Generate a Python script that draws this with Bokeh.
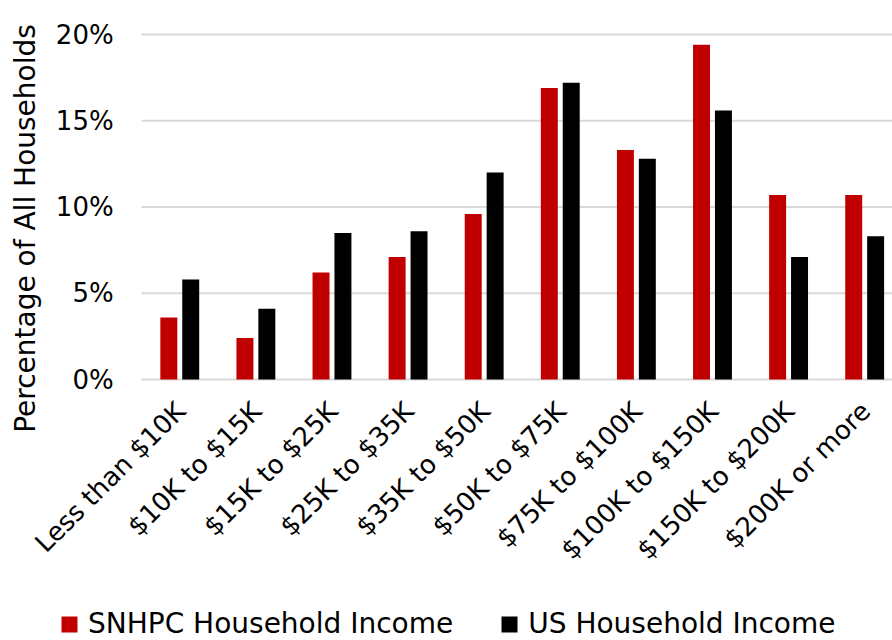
import math
from bokeh.plotting import figure
from bokeh.models import ColumnDataSource, Range1d, Legend, LegendItem, Label
from bokeh.core.properties import value
from bokeh.transform import dodge
from bokeh.embed import file_html
from bokeh.resources import INLINE

categories = ["Less than $10K", "$10K to $15K", "$15K to $25K", "$25K to $35K", "$35K to $50K",
              "$50K to $75K", "$75K to $100K", "$100K to $150K", "$150K to $200K", "$200K or more"]
snhpc = [3.6, 2.4, 6.2, 7.1, 9.6, 16.9, 13.3, 19.4, 10.7, 10.7]
us = [5.8, 4.1, 8.5, 8.6, 12.0, 17.2, 12.8, 15.6, 7.1, 8.3]
y_ticks = [0, 5, 10, 15, 20]
y_tick_labels = ["0%", "5%", "10%", "15%", "20%"]
series_names = ["SNHPC Household Income", "US Household Income"]
y_title = "Percentage of All Households"

FONT = "DejaVu Sans"
W, H = 892, 640

# layout geometry (pixels): plot area starts at x=141, categories 76.1px apart; 0% at y=379
PX_PER_CAT = 76.1
PLOT_LEFT = 141.15
ZERO_Y = 379.0
PX_PER_PCT = 17.25


def x_of(px):
    return (px - PLOT_LEFT) / PX_PER_CAT


def y_of(py):
    return (ZERO_Y - py) / PX_PER_PCT


xpos = [i + 0.5 for i in range(len(categories))]
src = ColumnDataSource(dict(x=xpos, cat=categories, snhpc=snhpc, us=us))

p = figure(width=W, height=H, x_range=Range1d(x_of(0), x_of(W)), y_range=Range1d(y_of(H), y_of(0)),
           output_backend="svg", toolbar_location=None, x_axis_location=None, y_axis_location=None,
           min_border=0)
p.outline_line_color = None
p.xgrid.visible = False
p.ygrid.visible = False

# horizontal gridlines
grid_src = ColumnDataSource(dict(y=y_ticks, lab=y_tick_labels))
p.segment(x0=0, x1=x_of(W), y0="y", y1="y", source=grid_src, line_color="#D9D9D9", line_width=2)

r1 = p.vbar(x=dodge("x", -0.143, range=p.x_range), top="snhpc", width=0.223, source=src,
            fill_color="#C00000", line_color=None)
r2 = p.vbar(x=dodge("x", 0.145, range=p.x_range), top="us", width=0.223, source=src,
            fill_color="#000000", line_color=None)

# y tick labels
p.text(x=0, y="y", text="lab", source=grid_src, x_offset=-28, text_align="right",
       text_baseline="middle", text_font=value(FONT), text_font_size="26px", text_color="#000000")

# category labels, rotated 45 degrees
p.text(x="x", y=0, text="cat", source=src, x_offset=1, y_offset=27, angle=math.pi / 4,
       text_align="right", text_baseline="middle", text_font=value(FONT), text_font_size="26px",
       text_color="#000000")

# y-axis title
p.add_layout(Label(x=x_of(25), y=y_of(228), text=y_title, angle=math.pi / 2, text_align="center",
                   text_baseline="middle", text_font=FONT, text_font_size="28px", text_color="#000000"))

legend = Legend(items=[LegendItem(label=series_names[0], renderers=[r1]),
                       LegendItem(label=series_names[1], renderers=[r2])],
                orientation="horizontal", location=(59, 0))
legend.label_text_font = FONT
legend.label_text_font_size = "28px"
legend.label_text_color = "#000000"
legend.glyph_width = 20
legend.glyph_height = 20
legend.spacing = 46
legend.label_standoff = 9
legend.border_line_color = None
legend.background_fill_alpha = 0
legend.margin = 0
legend.padding = 2
p.add_layout(legend, "center")

open("out.html", "w").write(file_html(p, INLINE))
